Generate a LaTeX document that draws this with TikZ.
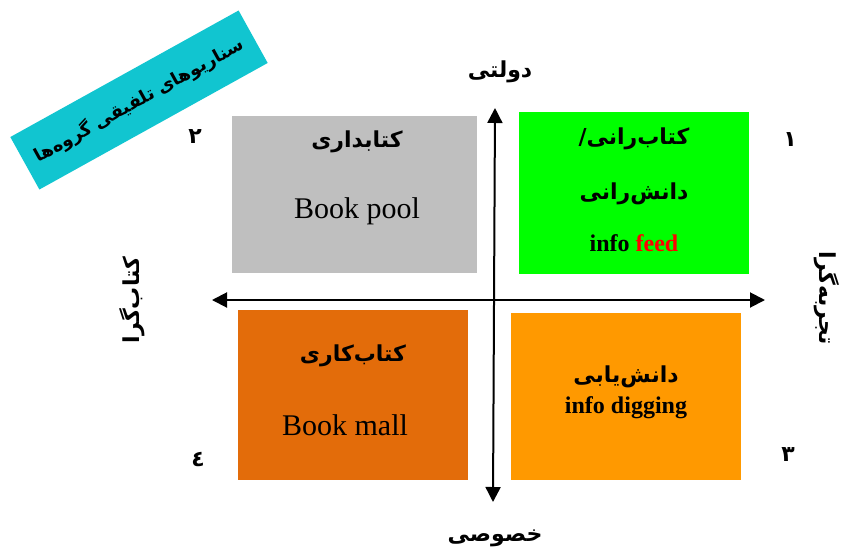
\documentclass[tikz,border=0pt]{standalone}
\usepackage{fontspec}
\setmainfont{Liberation Serif}
\newfontfamily\farsi[Script=Arabic]{DejaVu Sans}
\TeXXeTstate=1
\usetikzlibrary{arrows.meta}
\definecolor{poolgray}{RGB}{191,191,191}
\definecolor{feedgreen}{RGB}{0,255,0}
\definecolor{mallorange}{RGB}{227,108,10}
\definecolor{digorange}{RGB}{255,153,0}
\definecolor{bannercyan}{RGB}{17,197,208}
\newcommand{\fa}[1]{\beginR #1\endR}

\begin{document}
\begin{tikzpicture}[x=0.5pt,y=-0.5pt]
                        \tikzstyle{quad}=[inner sep=0pt, outer sep=0pt]
                        \tikzstyle{fa}=[font=\farsi\bfseries\fontsize{11}{13}\selectfont]
                        \tikzstyle{en}=[font=\fontsize{15}{17}\selectfont]
                        \tikzstyle{enb}=[font=\bfseries\fontsize{12}{14}\selectfont]
                        \tikzstyle{axis}=[line width=1pt, {Triangle[length=7.5pt,width=7.5pt]}-{Triangle[length=7.5pt,width=7.5pt]}]
                        \useasboundingbox (0,0) rectangle (848,553);
                        % quadrants
                        \node[quad, fill=poolgray, minimum width=122.5pt, minimum height=78.5pt] (pool) at (354.5,194.5) {};
                        \node[quad, fill=feedgreen, minimum width=115pt, minimum height=81pt] (feed) at (634,193) {};
                        \node[quad, fill=mallorange, minimum width=115pt, minimum height=85pt] (mall) at (353,395) {};
                        \node[quad, fill=digorange, minimum width=115pt, minimum height=83.5pt] (dig) at (626,396.5) {};
                        \node[fa] (poolfa) at (357,142) {\fa{کتابداری}};
                        \node[en] (poolen) at (357,211) {Book pool};
                        \node[fa] (feedfa) at (634,139) {\fa{کتاب‌رانی/}};
                        \node[fa] (feedfb) at (634,194) {\fa{دانش‌رانی}};
                        \node[enb] (feeden) at (634,243) {info \textcolor{red}{feed}};
                        \node[fa] (mallfa) at (353,356) {\fa{کتاب‌کاری}};
                        \node[en] (mallen) at (345,425) {Book mall};
                        \node[fa] (digfa) at (626,377) {\fa{دانش‌یابی}};
                        \node[enb] (digen) at (626,408) {info digging};
                        % axes
                        \coordinate (west) at (212,300);
                        \coordinate (east) at (765,300);
                        \coordinate (north) at (495,108);
                        \coordinate (south) at (493,502);
                        \draw[axis] (west) -- (east);
                        \draw[axis] (north) -- (south);
                        \node[fa] (gov) at (500,72) {\fa{دولتی}};
                        \node[fa] (priv) at (495,538) {\fa{خصوصی}};
                        \node[fa, rotate=90] (bookish) at (132,300) {\fa{کتاب‌گرا}};
                        \node[fa, rotate=-90] (empir) at (827,298) {\fa{تجربه‌گرا}};
                        % numbers
                        \node[fa] (one) at (790,140) {\fa{١}};
                        \node[fa] (two) at (195,137) {\fa{٢}};
                        \node[fa] (three) at (788,455) {\fa{٣}};
                        \node[fa] (four) at (198,459) {\fa{٤}};
                        % banner
                        \node[quad, fill=bannercyan, rotate=29, minimum width=130.5pt, minimum height=30pt, fa, font=\farsi\bfseries\fontsize{9}{11}\selectfont] (banner) at (139,100) {\fa{سناریوهای تلفیقی گروه‌ها}};
\end{tikzpicture}
\end{document}
